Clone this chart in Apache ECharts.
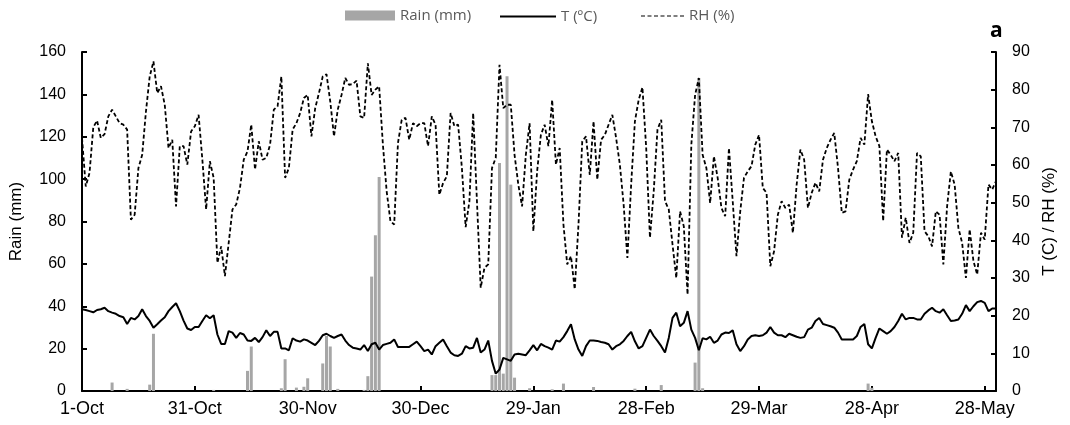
<!doctype html>
<html lang="en">
    <head>
        <meta charset="UTF-8" />
        <title>Rain, temperature and relative humidity</title>
        <script src="https://cdn.jsdelivr.net/npm/echarts@6.0.0/dist/echarts.min.js"></script>
        <style>
            html, body { margin: 0; padding: 0; background: #fff; }
        </style>
    </head>
    <body>
        <div id="main" style="width: 1070px; height: 425px"></div>

        <script>
            // x axis = days since 1-Oct (leap year, 1-Oct .. 31-May)
            const tickLabels = ["1-Oct", "31-Oct", "30-Nov", "30-Dec", "29-Jan", "28-Feb", "29-Mar", "28-Apr", "28-May"];

            // daily rainfall, only the days with rain
            const rainDays = [8, 12, 18, 19, 35, 44, 45, 53, 54, 57, 59, 60, 64, 65, 66, 68, 75, 76, 77, 78, 79,
                109, 110, 111, 112, 113, 114, 115, 119, 125, 128, 136, 147, 154, 163, 164, 165, 209, 210];
            const rainMm = [4, 1, 3, 27, 0.5, 9.5, 21, 1.3, 15, 1.6, 2, 6, 13, 26, 21, 1, 0.5, 7, 54, 73.5, 101,
                7.5, 7.5, 107.6, 8.2, 148.5, 97.4, 6.3, 1.3, 0.8, 3.5, 1.9, 1.1, 2.8, 13.4, 147.7, 1.3, 3.5, 1.5];

            // daily mean temperature (ºC), one value per day from 1-Oct
            const tempC = [
                21.7, 21.5, 21.2, 20.9, 21.5, 21.7, 22.1, 21.2, 20.8, 20.5,
                19.9, 19.6, 17.8, 19.4, 19.0, 19.9, 21.7, 19.9, 18.6, 16.8,
                17.7, 18.7, 19.6, 21.2, 22.3, 23.3, 21.2, 18.7, 16.6, 16.2,
                17.0, 17.0, 18.6, 20.1, 19.3, 20.1, 15.0, 12.5, 12.5, 15.9,
                15.5, 14.1, 15.4, 15.0, 13.4, 13.3, 14.1, 13.0, 14.3, 16.1,
                14.6, 15.7, 15.7, 11.3, 11.3, 10.8, 14.0, 13.4, 13.1, 13.7,
                13.4, 12.8, 12.2, 13.3, 14.8, 15.2, 14.6, 14.1, 14.6, 15.0,
                13.4, 12.2, 11.5, 11.3, 11.0, 12.2, 10.6, 12.4, 12.8, 11.0,
                12.2, 12.5, 12.8, 13.7, 11.7, 11.7, 11.7, 11.7, 12.4, 13.1,
                11.9, 10.6, 11.0, 9.7, 11.9, 12.8, 13.7, 11.9, 10.2, 9.5,
                9.3, 9.9, 11.9, 11.3, 11.5, 14.1, 10.2, 11.0, 13.4, 8.0,
                4.6, 5.7, 8.8, 8.4, 8.0, 9.7, 9.9, 9.7, 9.5, 10.8,
                12.2, 10.8, 12.5, 11.9, 11.5, 11.0, 13.4, 13.1, 14.3, 15.9,
                17.7, 13.7, 11.0, 9.3, 11.9, 13.4, 13.4, 13.3, 13.0, 12.8,
                12.4, 11.0, 11.9, 12.4, 13.3, 14.6, 15.7,
                13.2, 11.3, 11.9, 14.1, 16.3, 14.6, 13.3, 11.9, 10.2, 14.1,
                19.4, 20.8, 17.2, 18.1, 21.2, 16.3, 14.1, 10.8, 14.0, 13.7,
                14.4, 12.8, 13.4, 15.0, 15.5, 15.4, 16.1, 12.4, 10.6, 11.9,
                13.7, 14.6, 14.8, 14.6, 14.8, 15.5, 17.0, 15.5, 14.8, 14.8,
                14.3, 15.2, 14.8, 14.4, 14.1, 14.3, 16.3, 16.8, 18.6,
                19.4, 17.8, 17.5, 17.2, 16.8, 15.5, 13.7, 13.7, 13.7, 13.7,
                14.6, 17.0, 17.8, 12.4, 11.3, 14.1, 16.6, 15.9, 15.2, 15.9,
                17.0, 18.6, 20.5, 19.0, 19.4, 19.4, 19.0, 19.0, 20.5, 21.4,
                22.1, 21.2, 20.8, 21.7, 20.1, 18.6, 18.7, 19.0, 20.5, 22.8,
                21.2, 22.5, 23.6, 23.9, 23.4, 21.2, 21.9, 21.9
            ];

            // daily mean relative humidity (%), one value per day from 1-Oct
            const relHum = [
                67.2, 54.3, 57.9, 70.0, 71.8, 67.2, 68.2, 72.9, 74.7, 72.9,
                71.1, 70.7, 69.4, 45.5, 46.8, 59.2, 62.7, 74.2, 83.5, 87.5,
                79.1, 80.9, 76.0, 64.5, 66.7, 49.0, 65.0, 65.0, 60.1, 68.9,
                70.3, 73.3, 61.4, 48.2, 61.0, 56.6, 34.0, 38.4, 30.5, 39.3,
                48.2, 49.5, 53.9, 61.4, 63.6, 70.7, 58.8, 66.3, 61.4, 61.9,
                65.4, 74.7, 75.6, 83.5, 56.6, 59.2, 69.4, 71.1, 73.8, 77.8,
                78.6, 67.6, 75.1, 79.1, 83.5, 84.1, 76.9, 67.6, 74.7, 78.6,
                83.1, 81.3, 81.5, 82.4, 72.9, 72.5, 87.0, 78.6, 80.0, 80.9,
                65.4, 53.0, 45.1, 44.2, 65.8, 72.0, 72.5, 66.7, 71.1, 70.3,
                71.1, 71.1, 65.0, 72.9, 70.7, 52.1, 55.2, 57.0, 73.8, 70.3,
                70.7, 59.2, 43.5, 50.4, 73.8, 50.4, 27.4, 32.7, 33.6, 59.2,
                61.9, 86.6, 75.1, 76.0, 76.0, 62.7, 54.8, 49.0, 62.7, 71.1,
                42.4, 58.3, 68.0, 70.7, 65.0, 77.3, 60.1, 64.5, 44.2, 33.6,
                35.8, 27.0, 44.2, 66.3, 67.6, 57.4, 71.6, 56.1, 66.7, 68.0,
                70.7, 73.3, 67.2, 60.1, 49.5, 35.3, 54.8,
                71.6, 77.3, 80.6, 64.5, 40.7, 53.0, 69.4, 72.0, 50.4, 48.2,
                38.9, 30.0, 47.7, 43.7, 25.6, 65.4, 78.6, 83.1, 62.7, 59.2,
                49.9, 62.3, 56.6, 48.6, 46.4, 64.5, 50.4, 35.8, 47.7, 56.6,
                58.3, 59.7, 65.4, 68.0, 53.9, 52.6, 33.1, 37.1, 46.8, 50.4,
                48.6, 49.5, 42.0, 54.8, 64.1, 61.4, 48.6, 52.6, 55.3,
                53.0, 61.4, 64.5, 66.7, 68.5, 59.2, 47.3, 47.7, 56.1, 58.8,
                61.0, 67.2, 65.4, 78.8, 71.6, 67.6, 65.0, 45.1, 64.1, 62.7,
                61.0, 63.2, 40.7, 46.0, 39.3, 42.0, 63.2, 62.3, 42.4, 41.1,
                38.4, 47.7, 46.8, 33.6, 49.0, 58.3, 54.8, 43.3, 39.3, 30.0,
                42.9, 34.5, 30.9, 42.0, 40.2, 54.8, 53.5, 55.7
            ];

            const axisFont = "Liberation Sans, Arial, sans-serif";
            const legendText = { color: "#595959", fontSize: 15, fontFamily: "Open Sans, sans-serif" };
            // seven short dashes for the RH legend key
            const dashIcon = "path://M0,0h4v1h-4zM6.5,0h4v1h-4zM13,0h4v1h-4zM19.5,0h4v1h-4zM26,0h4v1h-4zM32.5,0h4v1h-4zM39,0h4v1h-4z";

            const myChart = echarts.init(document.getElementById("main"));

            const options = {
                animation: false,
                backgroundColor: "#fff",
                grid: { left: 82, right: 74, top: 52, bottom: 34, containLabel: false, outerBoundsMode: "none" },
                legend: [
                    {
                        data: [{ name: "Rain (mm)", icon: "rect" }],
                        left: 340, top: 3, itemWidth: 50, itemHeight: 10, textStyle: legendText,
                    },
                    {
                        data: [{ name: "T (ºC)", icon: "rect", itemStyle: { color: "#000" } }],
                        left: 495, top: 4, itemWidth: 56, itemHeight: 2, textStyle: legendText,
                    },
                    {
                        data: [{ name: "RH (%)", icon: dashIcon, itemStyle: { color: "#000" } }],
                        left: 636, top: 3.5, itemWidth: 43, itemHeight: 3, textStyle: legendText,
                    },
                ],
                graphic: [
                    {
                        type: "text",
                        left: 990,
                        top: 21,
                        style: { text: "a", font: "bold 21px 'Open Sans', sans-serif", fill: "#000" },
                    },
                ],
                xAxis: {
                    type: "value",
                    min: 0,
                    max: 243,
                    interval: 30,
                    axisLine: { show: true, lineStyle: { color: "#000", width: 2 } },
                    axisTick: { show: true, inside: true, length: 5, lineStyle: { color: "#000", width: 2 } },
                    splitLine: { show: false },
                    axisLabel: {
                        margin: 9,
                        color: "#000",
                        fontSize: 18,
                        fontFamily: axisFont,
                        formatter: (v) => (v % 30 === 0 ? tickLabels[v / 30] || "" : ""),
                    },
                },
                yAxis: [
                    {
                        type: "value",
                        min: 0,
                        max: 160,
                        interval: 20,
                        name: "Rain (mm)",
                        nameLocation: "middle",
                        nameRotate: 90,
                        nameGap: 57,
                        nameTextStyle: { color: "#000", fontSize: 17, fontFamily: axisFont },
                        axisLine: { show: true, lineStyle: { color: "#000", width: 2 } },
                        axisTick: { show: true, inside: true, length: 5, lineStyle: { color: "#000", width: 2 } },
                        splitLine: { show: false },
                        axisLabel: { margin: 16, color: "#000", fontSize: 16, fontFamily: axisFont },
                    },
                    {
                        type: "value",
                        min: 0,
                        max: 90,
                        interval: 10,
                        position: "right",
                        name: "T (C) / RH (%)",
                        nameLocation: "middle",
                        nameRotate: 90,
                        nameGap: 42,
                        nameTextStyle: { color: "#000", fontSize: 17, fontFamily: axisFont },
                        axisLine: { show: true, lineStyle: { color: "#000", width: 2 } },
                        axisTick: { show: true, inside: true, length: 5, lineStyle: { color: "#000", width: 2 } },
                        splitLine: { show: false },
                        axisLabel: { margin: 16, color: "#000", fontSize: 16, fontFamily: axisFont },
                    },
                ],
                series: [
                    {
                        name: "Rain (mm)",
                        type: "bar",
                        yAxisIndex: 0,
                        barWidth: 3,
                        itemStyle: { color: "#a6a6a6" },
                        data: rainDays.map((d, i) => [d, rainMm[i]]),
                        z: 1,
                    },
                    {
                        name: "T (ºC)",
                        type: "line",
                        yAxisIndex: 1,
                        symbol: "none",
                        lineStyle: { color: "#000", width: 2 },
                        itemStyle: { color: "#000" },
                        data: tempC.map((v, i) => [i, v]),
                        z: 3,
                    },
                    {
                        name: "RH (%)",
                        type: "line",
                        yAxisIndex: 1,
                        symbol: "none",
                        lineStyle: { color: "#000", width: 1.8, type: [4, 2.5] },
                        itemStyle: { color: "#000" },
                        data: relHum.map((v, i) => [i, v]),
                        z: 3,
                    },
                ],
            };

            myChart.setOption(options);
        </script>
    </body>
</html>
